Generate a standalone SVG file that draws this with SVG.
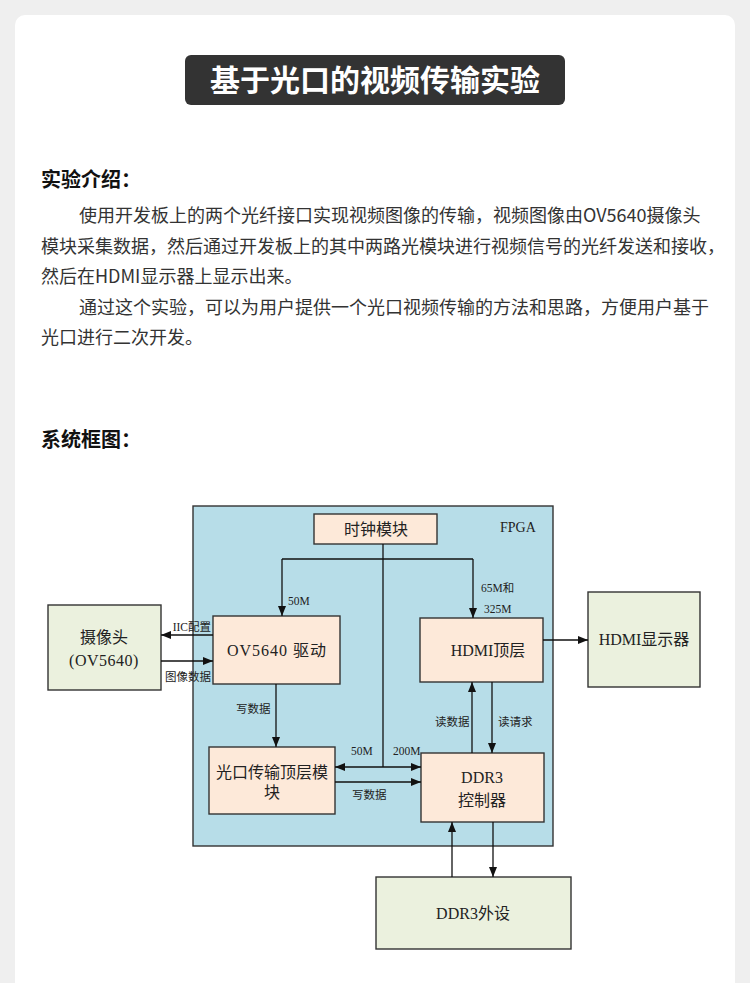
<svg xmlns="http://www.w3.org/2000/svg" width="750" height="983" viewBox="0 0 750 983">
<defs>
<style>
.cn{font-family:"Noto Sans CJK SC","Noto Sans",sans-serif;}
.body{font-family:"Noto Sans CJK SC","Noto Sans",sans-serif;font-size:18px;fill:#333;}
.h{font-family:"Noto Sans CJK SC","Noto Sans",sans-serif;font-size:20px;font-weight:bold;fill:#111;}
.dg{font-family:"Liberation Serif","Noto Sans CJK SC",serif;fill:#222;}
.node{font-size:16px;}
.lbl{font-size:11.5px;}
.box{stroke:#333;stroke-width:1.4;}
.peach{fill:#fde9d9;}
.green{fill:#ebf1de;}
.ln{stroke:#111;stroke-width:1.3;fill:none;}
</style>
<marker id="ar" viewBox="0 0 10 8" refX="10" refY="4" markerWidth="10" markerHeight="8" markerUnits="userSpaceOnUse" orient="auto-start-reverse">
<path d="M0,0 L10,4 L0,8 z" fill="#111"/>
</marker>
</defs>
<rect width="750" height="983" fill="#efefef"/>
<rect x="15" y="15" width="720" height="1010" rx="10" fill="#ffffff"/>
<g id="title">
<rect x="185" y="55" width="380" height="50" rx="6" fill="#333333"/>
<text x="375" y="91" text-anchor="middle" class="cn" font-size="30" font-weight="bold" fill="#ffffff">基于光口的视频传输实验</text>
</g>
<g id="intro">
<text x="41" y="187" class="h">实验介绍：</text>
<text x="79" y="222" class="body">使用开发板上的两个光纤接口实现视频图像的传输，视频图像由OV5640摄像头</text>
<text x="41" y="253" class="body">模块采集数据，然后通过开发板上的其中两路光模块进行视频信号的光纤发送和接收，</text>
<text x="41" y="283" class="body">然后在HDMI显示器上显示出来。</text>
<text x="79" y="314" class="body">通过这个实验，可以为用户提供一个光口视频传输的方法和思路，方便用户基于</text>
<text x="41" y="344" class="body">光口进行二次开发。</text>
<text x="41" y="447" class="h">系统框图：</text>
</g>
<g id="fpga">
<rect x="193" y="506" width="360" height="340" fill="#b7dde8" class="box"/>
<text x="500" y="532" class="dg" font-size="14">FPGA</text>
</g>
<g id="clock">
<rect x="314" y="514" width="123" height="30" class="box peach"/>
<text x="376" y="535" text-anchor="middle" class="dg node">时钟模块</text>
</g>
<g id="camera">
<rect x="48" y="605" width="113" height="85" class="box green"/>
<text x="104" y="643" text-anchor="middle" class="dg node">摄像头</text>
<text x="104" y="666" text-anchor="middle" class="dg node" letter-spacing="0.5">(OV5640)</text>
</g>
<g id="ov5640">
<rect x="213" y="616" width="127" height="68" class="box peach"/>
<text x="277" y="656" text-anchor="middle" class="dg node" letter-spacing="1">OV5640 驱动</text>
</g>
<g id="optical">
<rect x="209" y="747" width="126" height="67" class="box peach"/>
<text x="272" y="778" text-anchor="middle" class="dg node">光口传输顶层模</text>
<text x="272" y="798" text-anchor="middle" class="dg node">块</text>
</g>
<g id="hdmi">
<rect x="420" y="618" width="123" height="64" class="box peach"/>
<text x="488" y="656" text-anchor="middle" class="dg node">HDMI顶层</text>
</g>
<g id="ddr3ctrl">
<rect x="421" y="753" width="123" height="69" class="box peach"/>
<text x="482" y="783" text-anchor="middle" class="dg node">DDR3</text>
<text x="482" y="806" text-anchor="middle" class="dg node">控制器</text>
</g>
<g id="display">
<rect x="588" y="592" width="112" height="95" class="box green"/>
<text x="644" y="645" text-anchor="middle" class="dg node">HDMI显示器</text>
</g>
<g id="ddr3ext">
<rect x="376" y="877" width="195" height="72" class="box green"/>
<text x="473" y="919" text-anchor="middle" class="dg node">DDR3外设</text>
</g>
<g id="connectors">
<path class="ln" d="M383,544 V767"/>
<path class="ln" d="M282,559 H473"/>
<path class="ln" d="M282,559 V616" marker-end="url(#ar)"/>
<path class="ln" d="M473,559 V618" marker-end="url(#ar)"/>
<path class="ln" d="M213,635 H161" marker-end="url(#ar)"/>
<path class="ln" d="M161,661 H213" marker-end="url(#ar)"/>
<path class="ln" d="M276,684 V747" marker-end="url(#ar)"/>
<path class="ln" d="M335,767 H421" marker-start="url(#ar)" marker-end="url(#ar)"/>
<path class="ln" d="M335,782 H421" marker-end="url(#ar)"/>
<path class="ln" d="M472,753 V682" marker-end="url(#ar)"/>
<path class="ln" d="M492,682 V753" marker-end="url(#ar)"/>
<path class="ln" d="M543,640 H588" marker-end="url(#ar)"/>
<path class="ln" d="M452,877 V822" marker-end="url(#ar)"/>
<path class="ln" d="M493,822 V877" marker-end="url(#ar)"/>
<text x="288" y="605" class="dg lbl">50M</text>
<text x="481" y="592" class="dg lbl">65M和</text>
<text x="484" y="613" class="dg lbl">325M</text>
<text x="211" y="631" text-anchor="end" class="dg lbl">IIC配置</text>
<text x="165" y="681" class="dg lbl">图像数据</text>
<text x="236" y="713" class="dg lbl">写数据</text>
<text x="351" y="755" class="dg lbl">50M</text>
<text x="393" y="755" class="dg lbl">200M</text>
<text x="352" y="799" class="dg lbl">写数据</text>
<text x="435" y="726" class="dg lbl">读数据</text>
<text x="498" y="726" class="dg lbl">读请求</text>
</g>
</svg>
